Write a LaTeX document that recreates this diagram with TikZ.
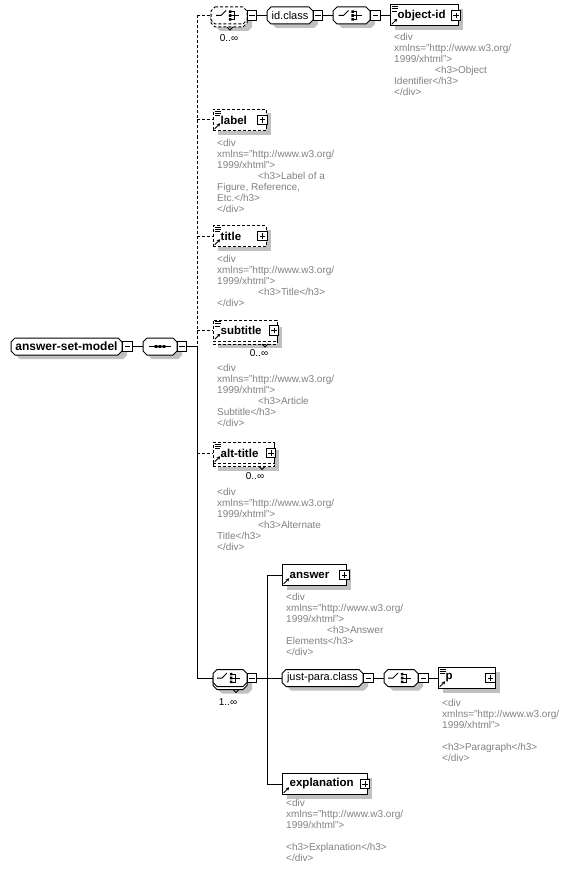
\documentclass[tikz,border=0pt]{standalone}
\usepackage{fontspec}
\setmainfont{Liberation Sans}
\usetikzlibrary{shadows,arrows.meta}
\definecolor{docgray}{RGB}{130,130,130}
\definecolor{shgray}{RGB}{192,192,192}
\tikzset{
  lw/.style={line width=1pt},
  conn/.style={draw, line width=1pt},
  dsh/.style={dash pattern=on 3pt off 2pt},
  dconn/.style={conn, dsh},
  ebox/.style={draw, fill=white, inner sep=0pt, line width=1pt},
  shad/.style={drop shadow={shadow xshift=5pt, shadow yshift=-4pt, fill=shgray, opacity=1}},
  elabel/.style={font=\fontsize{11.5}{13}\selectfont\bfseries, inner sep=0pt},
  tlabel/.style={font=\fontsize{11}{13}\selectfont},
  rlabel/.style={font=\fontsize{12}{14}\selectfont\bfseries},
  doc/.style={font=\fontsize{10}{11}\selectfont, text=docgray, inner sep=0pt, anchor=base west},
  occ/.style={font=\fontsize{10}{11}\selectfont, inner sep=0pt},
  pm/.style={draw, fill=white, minimum size=9.5pt, inner sep=0pt, line width=1pt},
  minusbox/.style={pm, path picture={\draw[line width=1pt] ([xshift=2pt]path picture bounding box.west) -- ([xshift=-2pt]path picture bounding box.east);}},
  plusbox/.style={pm, path picture={\draw[line width=1pt] ([xshift=2pt]path picture bounding box.west) -- ([xshift=-2pt]path picture bounding box.east) ([yshift=2pt]path picture bounding box.south) -- ([yshift=-2pt]path picture bounding box.north);}},
}
% octagon outline
\newcommand\octpath[4]{({#1+4},#2) -- ({#3-4},#2) -- (#3,{#2+4}) -- (#3,{#4-4}) -- ({#3-4},#4) -- ({#1+4},#4) -- (#1,{#4-4}) -- (#1,{#2+4}) -- cycle}
% name x1 y1 x2 y2 drawstyle nodestyle text
\newcommand\octa[8]{%
  \fill[shgray, shift={(5,4)}] \octpath{#2}{#3}{#4}{#5};
  \draw[lw, fill=white, #6] \octpath{#2}{#3}{#4}{#5};
  \node[inner sep=0pt, minimum width={#4-#2}, minimum height={#5-#3}, #7] (#1) at ({(#2+#4)/2},{(#3+#5)/2}) {#8};
}
% name x1 y1 x2 y2 drawstyle vx
\newcommand\octamult[7]{%
  \fill[shgray, shift={(5,7)}] \octpath{#2}{#3}{#4}{#5};
  \draw[lw, fill=white, #6, shift={(0,3)}] \octpath{#2}{#3}{#4}{#5};
  \draw[lw, fill=white, #6] \octpath{#2}{#3}{#4}{#5};
  \draw[lw] ({#7-3},{#5+3}) -- (#7,{#5+6}) -- ({#7+3},{#5+3});
  \node[inner sep=0pt, minimum width={#4-#2}, minimum height={#5-#3}] (#1) at ({(#2+#4)/2},{(#3+#5)/2}) {};
}
% name x1 y1 x2 y2 plusx label style
\newcommand\elem[8]{%
  \node[ebox, shad, #8, minimum width={#4-#2}, minimum height={#5-#3}] (#1) at ({(#2+#4)/2},{(#3+#5)/2}) {};
  \node[elabel, anchor=west] (#1-t) at ([xshift=8pt]#1.west) {#7};
  \node[plusbox] (#1-p) at (#6,{(#3+#5)/2}) {};
}
% name x1 y1 x2 y2 plusx label style vx
\newcommand\elemmult[9]{%
  \node[ebox, shad, #8, minimum width={#4-#2}, minimum height={#5-#3}] (#1-b) at ({(#2+#4)/2},{(#3+#5)/2+3}) {};
  \node[ebox, #8, minimum width={#4-#2}, minimum height={#5-#3}] (#1) at ({(#2+#4)/2},{(#3+#5)/2}) {};
  \draw[lw] ({#9-3},{#5+3}) -- (#9,{#5+6}) -- ({#9+3},{#5+3});
  \node[elabel, anchor=west] (#1-t) at ([xshift=8pt]#1.west) {#7};
  \node[plusbox] (#1-p) at (#6,{(#3+#5)/2}) {};
}
\newcommand\docicon[1]{%
  \draw[line width=0.9pt] ([shift={(2,2)}]#1.north west) -- ++(6,0) ([shift={(2,4.3)}]#1.north west) -- ++(6,0) ([shift={(2,6.6)}]#1.north west) -- ++(5,0);}
\newcommand\refarrow[1]{%
  \draw[line width=1pt, -{Stealth[length=3.4pt,width=3.6pt]}] ([shift={(2.2,-2.2)}]#1.south west) -- ++(5.5,-5.5);}
\newcommand\choiceicon[1]{%
  \draw[line width=1pt] ([shift={(-13,0)}]#1.center) -- ([shift={(-8,0)}]#1.center) -- ([shift={(-3,-5)}]#1.center);
  \fill ([shift={(-0.2,-5.2)}]#1.center) rectangle ++(2.6,2.6)
        ([shift={(-0.2,-1.3)}]#1.center) rectangle ++(2.6,2.6)
        ([shift={(-0.2,2.6)}]#1.center) rectangle ++(2.6,2.6);
  \draw[line width=1pt] ([shift={(2,-4)}]#1.center) -- ([shift={(5,-4)}]#1.center) -- ([shift={(5,4)}]#1.center) -- ([shift={(2,4)}]#1.center)
        ([shift={(2,0)}]#1.center) -- ([shift={(10,0)}]#1.center);}
\newcommand\seqicon[1]{%
  \draw[line width=1pt] ([shift={(-11,0)}]#1.center) -- ([shift={(11,0)}]#1.center);
  \fill ([shift={(-5.3,-1.4)}]#1.center) rectangle ++(2.8,2.8)
        ([shift={(-1.4,-1.4)}]#1.center) rectangle ++(2.8,2.8)
        ([shift={(2.5,-1.4)}]#1.center) rectangle ++(2.8,2.8);}
\newcommand\docln[4]{\node[doc] (#1) at (#2,#3) {#4};}

\begin{document}
\begin{tikzpicture}[x=1pt,y=-1pt]
\useasboundingbox (0,0) rectangle (572,872);
\fill[white] (0,0) rectangle (572,872);

% ---- compositors and typed groups
\octa{root}{11}{338}{122}{355}{}{rlabel}{answer-set-model}
\node[minusbox] (rootm) at (127.5,346.5) {};
\octa{seq}{143}{338}{177}{355}{}{}{}
\seqicon{seq}
\node[minusbox] (seqm) at (182,346.5) {};

\octamult{ch1}{211}{7}{247}{24}{dsh}{230}
\choiceicon{ch1}
\node[minusbox] (ch1m) at (252,15.5) {};
\node[occ] (occ1) at (229,38) {0..∞};

\octa{idc}{267}{7}{313}{24}{}{tlabel}{id.class}
\node[minusbox] (idcm) at (318,15.5) {};
\octa{ch2}{333}{7}{370}{24}{}{}{}
\choiceicon{ch2}
\node[minusbox] (ch2m) at (375.5,15.5) {};

\octamult{ch3}{213}{669.5}{247}{686.5}{}{236}
\choiceicon{ch3}
\node[minusbox] (ch3m) at (252,678) {};
\node[occ] (occ4) at (228,702) {1..∞};

\octa{jp}{282}{669.5}{363}{686.5}{}{tlabel}{just-para.class}
\node[minusbox] (jpm) at (368.5,678) {};
\octa{ch4}{384}{669.5}{418}{686.5}{}{}{}
\choiceicon{ch4}
\node[minusbox] (ch4m) at (423.5,678) {};

% ---- elements
\elem{objid}{390}{5}{458}{26}{456}{object-id}{}
\docicon{objid}\refarrow{objid}
\elem{label}{213}{109.5}{266}{130.5}{262.5}{label}{dsh}
\docicon{label}\refarrow{label}
\elem{title}{213}{225.5}{266}{246.5}{262.5}{title}{dsh}
\docicon{title}\refarrow{title}
\elemmult{subtitle}{213}{320}{277}{341}{274}{subtitle}{dsh}{265}
\docicon{subtitle}\refarrow{subtitle}
\node[occ] (occ2) at (259,353) {0..∞};
\elemmult{alttitle}{213}{442.5}{274}{463.5}{271}{alt-title}{dsh}{262}
\docicon{alttitle}\refarrow{alttitle}
\node[occ] (occ3) at (255,476) {0..∞};
\elem{answer}{282}{564.5}{346}{585.5}{344.5}{answer}{}
\refarrow{answer}
\elem{p}{438}{667.5}{495}{688.5}{490.5}{p}{}
\docicon{p}\refarrow{p}
\elem{expl}{282}{773.5}{367}{794.5}{365}{explanation}{}
\refarrow{expl}

% ---- connectors
\coordinate (tr0) at (197,15.5);
\coordinate (trmid) at (197,346.5);
\coordinate (trbot) at (197,678);
\coordinate (bus) at (267,678);
\draw[conn] (rootm.east) -- (seq.west);
\draw[conn] (seqm.east) -- (trmid);
\draw[dconn] (tr0) -- (trmid);
\draw[conn] (trmid) -- (trbot);
\draw[dconn] (tr0) -- (ch1.west);
\draw[dconn] (tr0 |- label.west) -- (label.west);
\draw[dconn] (tr0 |- title.west) -- (title.west);
\draw[dconn] (tr0 |- subtitle.west) -- (subtitle.west);
\draw[dconn] (tr0 |- alttitle.west) -- (alttitle.west);
\draw[conn] (trbot) -- (ch3.west);
\draw[conn] (ch1m.east) -- (idc.west);
\draw[conn] (idcm.east) -- (ch2.west);
\draw[conn] (ch2m.east) -- (objid.west);
\draw[conn] (ch3m.east) -- (jp.west);
\draw[conn] (answer.west) -- (bus |- answer.west) -- (bus |- expl.west) -- (expl.west);
\draw[conn] (jpm.east) -- (ch4.west);
\draw[conn] (ch4m.east) -- (p.west);

% ---- documentation
\docln{od1}{394}{41}{<div}
\docln{od2}{394}{52}{xmlns="http://www.w3.org/}
\docln{od3}{394}{63}{1999/xhtml">}
\docln{od4}{435}{74}{<h3>Object}
\docln{od5}{394}{85}{Identifier</h3>}
\docln{od6}{394}{96}{</div>}

\docln{ld1}{217}{146.5}{<div}
\docln{ld2}{217}{157.5}{xmlns="http://www.w3.org/}
\docln{ld3}{217}{168.5}{1999/xhtml">}
\docln{ld4}{258}{179.5}{<h3>Label of a}
\docln{ld5}{217}{190.5}{Figure, Reference,}
\docln{ld6}{217}{201.5}{Etc.</h3>}
\docln{ld7}{217}{212.5}{</div>}

\docln{td1}{217}{262.5}{<div}
\docln{td2}{217}{273.5}{xmlns="http://www.w3.org/}
\docln{td3}{217}{284.5}{1999/xhtml">}
\docln{td4}{258}{295.5}{<h3>Title</h3>}
\docln{td5}{217}{306.5}{</div>}

\docln{sd1}{217}{371.5}{<div}
\docln{sd2}{217}{382.5}{xmlns="http://www.w3.org/}
\docln{sd3}{217}{393.5}{1999/xhtml">}
\docln{sd4}{258}{404.5}{<h3>Article}
\docln{sd5}{217}{415.5}{Subtitle</h3>}
\docln{sd6}{217}{426.5}{</div>}

\docln{ad1}{217}{495.5}{<div}
\docln{ad2}{217}{506.5}{xmlns="http://www.w3.org/}
\docln{ad3}{217}{517.5}{1999/xhtml">}
\docln{ad4}{258}{528.5}{<h3>Alternate}
\docln{ad5}{217}{539.5}{Title</h3>}
\docln{ad6}{217}{550.5}{</div>}

\docln{nd1}{286}{600.5}{<div}
\docln{nd2}{286}{611.5}{xmlns="http://www.w3.org/}
\docln{nd3}{286}{622.5}{1999/xhtml">}
\docln{nd4}{327}{633.5}{<h3>Answer}
\docln{nd5}{286}{644.5}{Elements</h3>}
\docln{nd6}{286}{655.5}{</div>}

\docln{pd1}{442}{706.5}{<div}
\docln{pd2}{442}{717.5}{xmlns="http://www.w3.org/}
\docln{pd3}{442}{728.5}{1999/xhtml">}
\docln{pd4}{442}{750.5}{<h3>Paragraph</h3>}
\docln{pd5}{442}{761.5}{</div>}

\docln{ed1}{286}{806.5}{<div}
\docln{ed2}{286}{817.5}{xmlns="http://www.w3.org/}
\docln{ed3}{286}{828.5}{1999/xhtml">}
\docln{ed4}{286}{850.5}{<h3>Explanation</h3>}
\docln{ed5}{286}{861.5}{</div>}
\end{tikzpicture}
\end{document}
